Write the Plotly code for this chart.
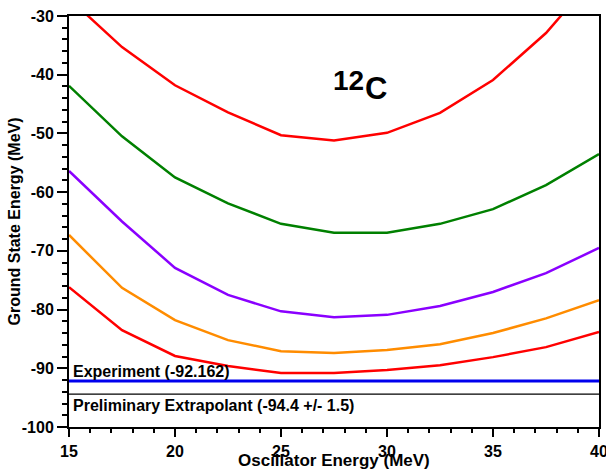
import plotly.graph_objects as go

osc = [15, 17.5, 20, 22.5, 25, 27.5, 30, 32.5, 35, 37.5, 40]
red_top = [-27.0, -35.3, -41.8, -46.4, -50.3, -51.2, -49.9, -46.5, -40.9, -32.9, -22.5]
green = [-41.9, -50.5, -57.5, -61.9, -65.4, -66.9, -66.9, -65.4, -62.9, -58.8, -53.5]
purple = [-56.4, -65.0, -72.9, -77.5, -80.3, -81.3, -80.9, -79.4, -77.0, -73.8, -69.5]
orange = [-67.3, -76.3, -81.8, -85.2, -87.1, -87.4, -86.9, -85.9, -84.0, -81.5, -78.4]
red_bot = [-76.2, -83.5, -87.9, -89.6, -90.8, -90.8, -90.3, -89.5, -88.1, -86.4, -83.8]
experiment = -92.162
extrapolant = -94.4

series = [
    (red_top, "#ff0000"),
    (green, "#008000"),
    (purple, "#8a00ff"),
    (orange, "#ff8c00"),
    (red_bot, "#ff0000"),
]

font = "Liberation Sans, Arial, sans-serif"
fig = go.Figure()
for ys, col in series:
    fig.add_trace(go.Scatter(x=osc, y=ys, mode="lines",
                             line=dict(color=col, width=2.5), showlegend=False))

fig.add_trace(go.Scatter(x=[osc[0], osc[-1]], y=[experiment, experiment], mode="lines",
                         line=dict(color="#0000ee", width=3), showlegend=False))
fig.add_trace(go.Scatter(x=[osc[0], osc[-1]], y=[extrapolant, extrapolant], mode="lines",
                         line=dict(color="black", width=1.2), showlegend=False))

fig.add_annotation(x=15.1, y=experiment, xref="x", yref="y", text="<b>Experiment (-92.162)</b>",
                   showarrow=False, xanchor="left", yanchor="bottom", yshift=-1,
                   font=dict(family=font, size=16, color="black"))
fig.add_annotation(x=15.1, y=extrapolant, xref="x", yref="y",
                   text="<b>Preliminary Extrapolant (-94.4 +/- 1.5)</b>",
                   showarrow=False, xanchor="left", yanchor="top", yshift=-1,
                   font=dict(family=font, size=16, color="black"))
fig.add_annotation(x=0.527, y=0.842, xref="paper", yref="paper", text="<b>12</b>",
                   showarrow=False, xanchor="center", yanchor="middle",
                   font=dict(family=font, size=28, color="black"))
fig.add_annotation(x=0.580, y=0.823, xref="paper", yref="paper", text="<b>C</b>",
                   showarrow=False, xanchor="center", yanchor="middle",
                   font=dict(family=font, size=31, color="black"))
fig.add_annotation(x=-0.1019, y=0.5, xref="paper", yref="paper",
                   text="<b>Ground State Energy (MeV)</b>", textangle=-90,
                   showarrow=False, xanchor="center", yanchor="middle",
                   font=dict(family=font, size=16, color="black"))
fig.add_annotation(x=0.5, y=-0.0827, xref="paper", yref="paper",
                   text="<b>Oscillator Energy (MeV)</b>",
                   showarrow=False, xanchor="center", yanchor="middle",
                   font=dict(family=font, size=17, color="black"))

fig.update_layout(
    width=606, height=471,
    margin=dict(l=69, r=7, t=16, b=44, autoexpand=False),
    paper_bgcolor="white", plot_bgcolor="white",
    font=dict(family=font, size=16, color="black"),
)
fig.update_xaxes(
    range=[15, 40], tickvals=[15, 20, 25, 30, 35, 40],
    ticktext=["<b>%d</b>" % v for v in [15, 20, 25, 30, 35, 40]],
    ticks="outside", ticklen=8, tickwidth=2, tickcolor="black",
    minor=dict(dtick=1, ticklen=4, tickwidth=2, tickcolor="black", ticks="outside"),
    showline=True, linewidth=2, linecolor="black", mirror=True,
    showgrid=False, zeroline=False, automargin=False, ticklabeloverflow="allow",
    ticklabelstandoff=1,
    tickfont=dict(size=16),
)
fig.update_yaxes(
    range=[-100, -30], tickvals=[-100, -90, -80, -70, -60, -50, -40, -30],
    ticktext=["<b>%d</b>" % v for v in [-100, -90, -80, -70, -60, -50, -40, -30]],
    ticks="outside", ticklen=10, tickwidth=2, tickcolor="black",
    minor=dict(dtick=2, ticklen=5, tickwidth=2, tickcolor="black", ticks="outside"),
    showline=True, linewidth=2, linecolor="black", mirror=True,
    showgrid=False, zeroline=False, automargin=False,
    tickfont=dict(size=16),
)

fig.write_html("out.html")
